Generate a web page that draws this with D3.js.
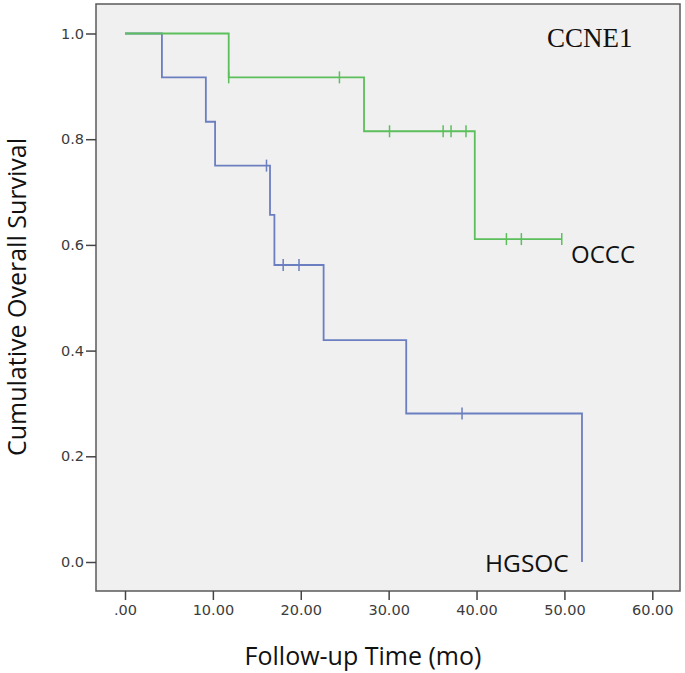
<!DOCTYPE html>
<html><head><meta charset="utf-8">
<script src="https://cdn.jsdelivr.net/npm/d3@7"></script>
<style>body{margin:0;background:#fff}</style>
</head><body>
<svg id="c" width="685" height="673"></svg>
<script>
// Kaplan-Meier steps: [time, survival after step]
const occcSteps = [[0,1.0],[11.8,0.917],[27.2,0.815],[39.8,0.611]];
const occcEnd = 49.7;
const occcCensor = [[11.8,0.917],[24.4,0.917],[30.1,0.815],[36.2,0.815],[37.1,0.815],[38.8,0.815],[43.4,0.611],[45.1,0.611],[49.7,0.611]];
const hgsocSteps = [[0,1.0],[4.2,0.917],[9.2,0.833],[10.25,0.75],[16.5,0.657],[17.0,0.562],[22.6,0.42],[32.0,0.281],[52.0,0.0]];
const hgsocEnd = 52.0;
const hgsocCensor = [[16.1,0.75],[18.0,0.562],[19.8,0.562],[38.35,0.281]];
const xTicks = [0,10,20,30,40,50,60];
const yTicks = [0,0.2,0.4,0.6,0.8,1.0];

const svg = d3.select("#c");
const frame = {l:96, t:4, r:680, b:591};
const x = d3.scaleLinear().domain([0,60]).range([125,652.3]);
const y = d3.scaleLinear().domain([0,1]).range([562,33.5]);

svg.append("rect").attr("x",frame.l).attr("y",frame.t).attr("width",frame.r-frame.l).attr("height",frame.b-frame.t)
  .attr("fill","#f0f0f0").attr("stroke","#5a5a5a").attr("stroke-width",1.5);

const xAxis = svg.append("g").attr("transform",`translate(0,${frame.b})`)
  .call(d3.axisBottom(x).tickValues(xTicks).tickSize(9).tickFormat(d=>d===0?".00":d3.format(".2f")(d)));
xAxis.select(".domain").remove();
xAxis.selectAll("line").attr("stroke","#444").attr("stroke-width",1.5);
xAxis.selectAll("text").attr("font-family","DejaVu Sans").attr("font-size",14.5).attr("fill","#3c3c3c").attr("y",14).attr("dy","0.71em");

const yAxis = svg.append("g").attr("transform",`translate(${frame.l},0)`)
  .call(d3.axisLeft(y).tickValues(yTicks).tickSize(10).tickFormat(d3.format(".1f")));
yAxis.select(".domain").remove();
yAxis.selectAll("line").attr("stroke","#444").attr("stroke-width",1.5);
yAxis.selectAll("text").attr("font-family","DejaVu Sans").attr("font-size",14.5).attr("fill","#3c3c3c").attr("x",-12);

function kmPath(steps, end){
  const pts = [];
  steps.forEach((s,i)=>{
    if(i>0) pts.push([s[0], steps[i-1][1]]);
    pts.push(s);
  });
  pts.push([end, steps[steps.length-1][1]]);
  return d3.line().x(d=>x(d[0])).y(d=>y(d[1]))(pts);
}
function drawSeries(steps,end,cens,color){
  svg.append("path").attr("d",kmPath(steps,end)).attr("fill","none").attr("stroke",color).attr("stroke-width",1.8);
  svg.selectAll(null).data(cens).enter().append("line")
    .attr("x1",d=>x(d[0])).attr("x2",d=>x(d[0]))
    .attr("y1",d=>y(d[1])-6).attr("y2",d=>y(d[1])+6)
    .attr("stroke",color).attr("stroke-width",1.5);
}
drawSeries(hgsocSteps,hgsocEnd,hgsocCensor,"#6b7ec0");
drawSeries(occcSteps,occcEnd,occcCensor,"#5cbf5c");

svg.append("text").attr("x",547).attr("y",47).attr("font-family","Liberation Serif").attr("font-size",27).attr("fill","#111").text("CCNE1");
svg.append("text").attr("x",571).attr("y",263).attr("font-family","Open Sans").attr("font-size",24).attr("fill","#111").text("OCCC");
svg.append("text").attr("x",485).attr("y",572).attr("font-family","Open Sans").attr("font-size",24.5).attr("fill","#111").text("HGSOC");

svg.append("text").attr("x",363).attr("y",665).attr("text-anchor","middle").attr("font-family","Open Sans").attr("font-size",25).attr("fill","#111").text("Follow-up Time (mo)");
svg.append("text").attr("transform","translate(26,297) rotate(-90)").attr("text-anchor","middle").attr("font-family","Open Sans").attr("font-size",25).attr("fill","#111").text("Cumulative Overall Survival");
</script>
</body></html>
